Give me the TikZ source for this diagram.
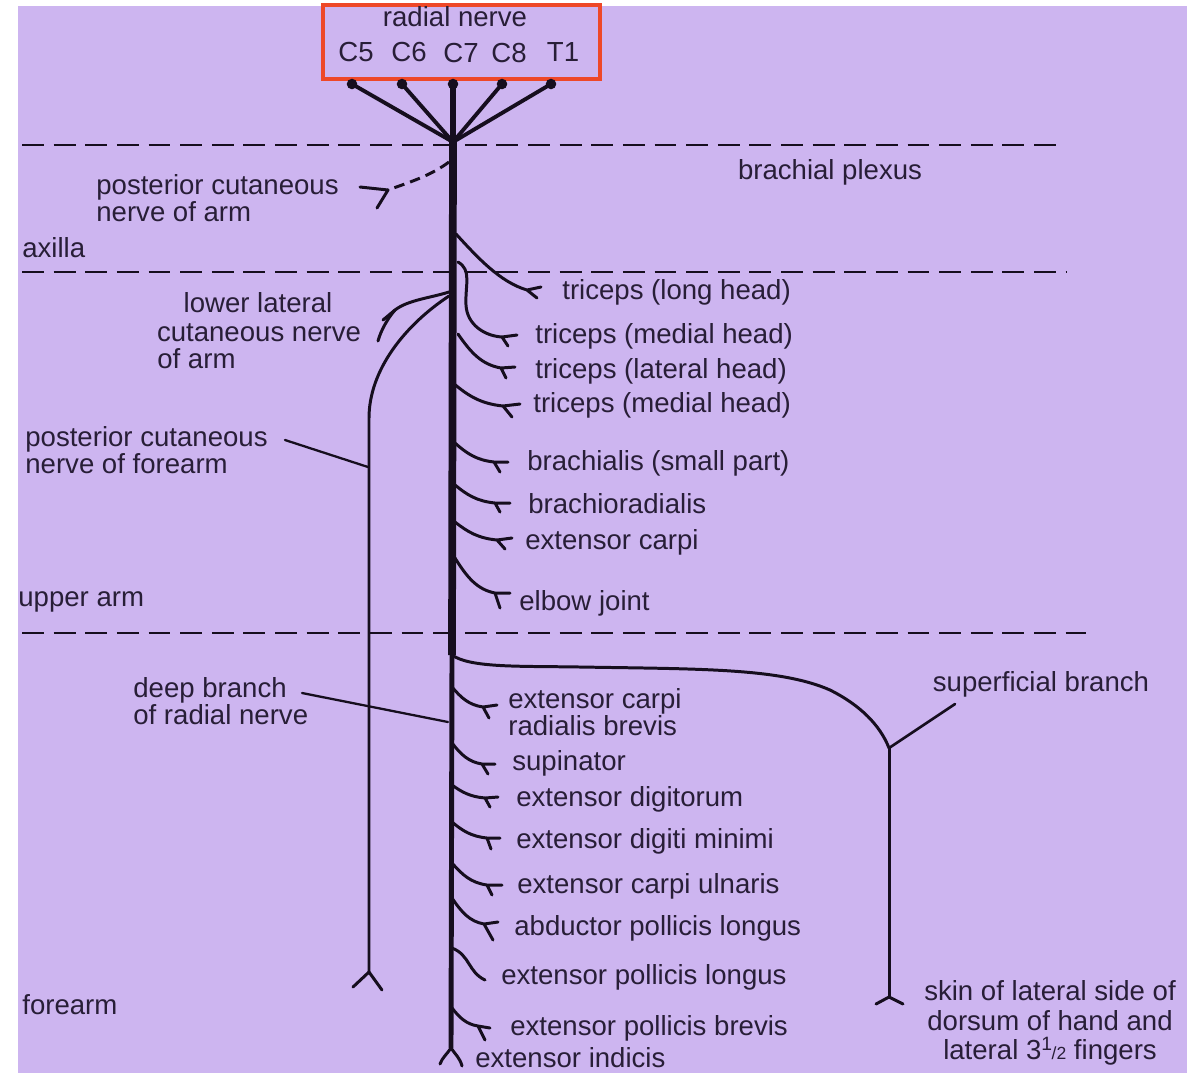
\documentclass[tikz,border=0pt]{standalone}
\usepackage{fontspec}
\setmainfont{Liberation Sans}
\usetikzlibrary{calc}
\definecolor{bgp}{RGB}{205,181,240}
\definecolor{txt}{RGB}{40,30,55}
\definecolor{nerve}{RGB}{22,14,30}
\definecolor{boxred}{RGB}{238,72,40}
\newcommand\lbl{\fontsize{15.7}{15.2}\selectfont}
\newcommand\lblwide{\fontsize{15.7}{16.8}\selectfont}
% muscle branch: start (1,2), fork (3,4), tines (5,6) and (7,8)
\newcommand\mbr[8]{%
  \draw[nrv] (#1,#2) .. controls +({0.3*(#3-#1)},{0.55*(#4-#2)}) and +({-0.45*(#3-#1)},{-0.1*(#4-#2)}) .. (#3,#4) -- (#5,#6) (#3,#4) -- (#7,#8);}
\begin{document}
\begin{tikzpicture}[x=0.02cm,y=-0.02cm,
  nrv/.style={draw=nerve,line width=1.7pt,line cap=round,line join=round},
  trunkhi/.style={draw=nerve,line width=4.4pt},
  trunklo/.style={draw=nerve,line width=2.8pt},
  rootline/.style={draw=nerve,line width=2.2pt},
  levelline/.style={draw=nerve,line width=1.3pt,dash pattern=on 12.5pt off 5.5pt},
  lab/.style={inner sep=0pt,text=txt,font=\lbl},
  rootdot/.style={circle,fill=nerve,inner sep=0pt,minimum size=6pt}]
\useasboundingbox (0,0) rectangle (1203,1073);
\fill[bgp] (18,6) rectangle (1187,1073);

% red box and top labels
\draw[boxred,line width=2.3pt] (323,5) rectangle (600,79);
\node[lab] (rn) at (455,17) {radial nerve};
\node[lab] (lC5) at (356,52) {C5};
\node[lab] (lC6) at (409,52) {C6};
\node[lab] (lC7) at (461,53) {C7};
\node[lab] (lC8) at (509,53) {C8};
\node[lab] (lT1) at (563,52) {T1};

% roots
\node[rootdot] (C5) at (352,84) {};
\node[rootdot] (C6) at (402,84) {};
\node[rootdot] (C7) at (453,84) {};
\node[rootdot] (C8) at (502,84) {};
\node[rootdot] (T1) at (551,84) {};
\coordinate (J) at (453,142);
\foreach \r in {C5,C6,C8,T1} \draw[rootline] (\r.center) -- (J);
\draw[rootline,line width=3pt] (C7.center) -- (J);

% level lines
\draw[levelline] (22,145) -- (1060,145);
\draw[levelline] (22,272) -- (1066,272);
\draw[levelline] (22,633) -- (1086,633);

% trunk
\coordinate (M) at (452,655);
\coordinate (B) at (451,1048);
\draw[trunkhi] (J) -- (M);
\draw[trunklo] (M) -- (B);
\draw[nrv] (B) .. controls (447,1054) and (442,1058) .. (440,1064);
\draw[nrv] (B) .. controls (455,1054) and (460,1058) .. (462,1066);

% posterior cutaneous nerve of arm
\draw[nrv,dash pattern=on 6pt off 3.5pt,line cap=butt] (449,162) .. controls (430,176) and (410,182) .. (388,190);
\draw[nrv] (360,187) -- (388,190) -- (377,208);

% lower lateral cutaneous nerve of arm
\draw[nrv] (449,292) .. controls (430,298) and (408,300) .. (395,310) -- (383,320);
\draw[nrv] (395,310) .. controls (388,318) and (381,330) .. (378,341);

% posterior cutaneous nerve of forearm
\coordinate (PF) at (369,972);
\draw[nrv] (449,296) .. controls (405,325) and (369,370) .. (369,418) -- (PF);
\draw[nrv] (PF) -- (353,987) (PF) -- (382,990);

% triceps branches
\draw[nrv] (456,234) .. controls (478,258) and (500,282) .. (527,290) -- (541,287) (527,290) -- (537,298);
\draw[nrv] (458,262) .. controls (472,270) and (465,285) .. (466,305) .. controls (467,325) and (485,336) .. (502,337) -- (517,335) (502,337) -- (508,346);
\mbr{458}{334}{501}{368}{515}{367}{506}{378}
\mbr{453}{383}{503}{406}{520}{404}{512}{417}

% upper arm muscle branches
\mbr{455}{443}{494}{462}{508}{462}{500}{472}
\mbr{455}{485}{495}{503}{510}{503}{500}{512}
\mbr{455}{522}{497}{540}{512}{538}{505}{549}
\mbr{455}{558}{495}{593}{510}{593}{500}{608}

% superficial branch
\coordinate (SF) at (889,748);
\coordinate (SB) at (889,997);
\draw[nrv] (M) .. controls (470,668) and (520,666) .. (580,667) .. controls (700,669) and (780,668) .. (830,690) .. controls (860,705) and (880,725) .. (SF);
\draw[nrv] (SF) -- (SB);
\draw[nrv] (SB) -- (876,1004) (SB) -- (903,1004);

% forearm muscle branches
\mbr{452}{687}{483}{707}{497}{705}{489}{718}
\mbr{452}{743}{482}{764}{495}{764}{488}{774}
\mbr{452}{785}{485}{798}{498}{797}{490}{807}
\mbr{452}{822}{487}{838}{500}{838}{491}{849}
\mbr{452}{863}{487}{885}{502}{885}{492}{895}
\mbr{452}{898}{484}{924}{498}{922}{493}{940}
\draw[nrv] (452,948) .. controls (470,955) and (468,972) .. (485,980);
\mbr{452}{1008}{478}{1026}{490}{1028}{485}{1040}

% labels
\node[lab] at (830,172) {brachial plexus};
\node[lab,anchor=west,align=left] at (96,198) {posterior cutaneous\\nerve of arm};
\node[lab,anchor=west] at (22,248) {axilla};
\node[lab] at (258,303) {lower lateral};
\node[lab] at (259,333) {cutaneous nerve};
\node[lab,anchor=west] at (157,359) {of arm};
\node[lab,anchor=west,align=left] (pcf) at (25,450) {posterior cutaneous\\nerve of forearm};
\node[lab,anchor=west] at (18,602) {upper arm};
\node[lab,anchor=west,align=left] (dbr) at (133,701) {deep branch\\of radial nerve};
\node[lab,anchor=west] at (22,1005) {forearm};

\node[lab,anchor=west] at (562,292) {triceps (long head)};
\node[lab,anchor=west] at (535,336) {triceps (medial head)};
\node[lab,anchor=west] at (535,371) {triceps (lateral head)};
\node[lab,anchor=west] at (533,405) {triceps (medial head)};
\node[lab,anchor=west] at (527,463) {brachialis (small part)};
\node[lab,anchor=west] at (528,504) {brachioradialis};
\node[lab,anchor=west] at (525,542) {extensor carpi};
\node[lab,anchor=west] at (519,603) {elbow joint};
\node[lab,anchor=west,align=left] at (508,712) {extensor carpi\\radialis brevis};
\node[lab,anchor=west] at (512,763) {supinator};
\node[lab,anchor=west] at (516,799) {extensor digitorum};
\node[lab,anchor=west] at (516,841) {extensor digiti minimi};
\node[lab,anchor=west] at (517,886) {extensor carpi ulnaris};
\node[lab,anchor=west] at (514,928) {abductor pollicis longus};
\node[lab,anchor=west] at (501,977) {extensor pollicis longus};
\node[lab,anchor=west] at (510,1028) {extensor pollicis brevis};
\node[lab,anchor=west] at (475,1058) {extensor indicis};
\node[lab] (sbr) at (1041,684) {superficial branch};
\node[lab,font=\lblwide,align=center] at (1050,1023) {skin of lateral side of\\dorsum of hand and\\lateral 3\textsuperscript{1}\kern-0.05em{\fontsize{10}{10}\selectfont/2} fingers};

% pointer lines
\coordinate (pfA) at (285,440);
\coordinate (pfB) at (368,467);
\draw[nrv,line width=1.3pt] (pfA) -- (pfB);
\coordinate (dbA) at (302,693);
\coordinate (dbB) at (448,722);
\draw[nrv,line width=1.3pt] (dbA) -- (dbB);
\coordinate (sbA) at (955,704);
\draw[nrv,line width=1.5pt] (SF) -- (sbA);
\end{tikzpicture}
\end{document}
